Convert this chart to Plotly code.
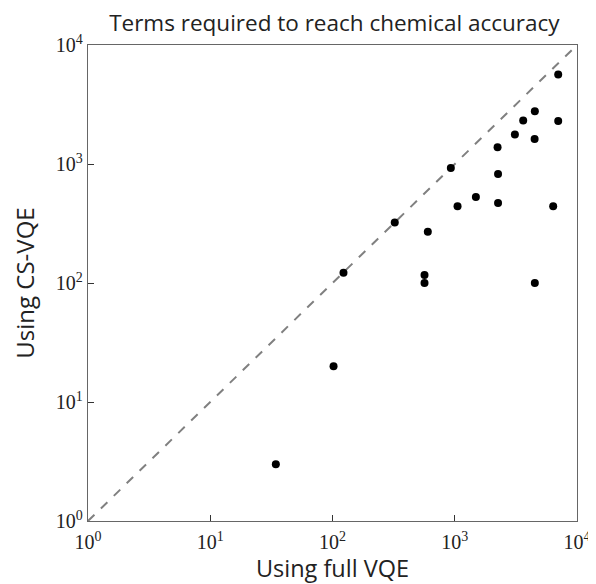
import plotly.graph_objects as go

full_vqe = [34.4, 102, 123, 566, 566, 323, 602, 929, 1054, 1489, 2240, 2260, 2260,
            3104, 3630, 4520, 4500, 4520, 6385, 7020, 7020]
cs_vqe = [3, 20, 122, 117, 100, 322, 270, 926, 441, 528, 1381, 824, 470,
          1766, 2316, 2773, 1622, 100, 441, 2297, 5640]

tick_vals = [1, 10, 100, 1000, 10000]
tick_text = ["10<sup>0</sup>", "10<sup>1</sup>", "10<sup>2</sup>", "10<sup>3</sup>", "10<sup>4</sup>"]
diag = [1, 10000]

fig = go.Figure()
fig.add_trace(go.Scatter(x=diag, y=diag, mode="lines",
                         line=dict(color="#808080", width=2, dash="dash"),
                         hoverinfo="skip", showlegend=False))
fig.add_trace(go.Scatter(x=full_vqe, y=cs_vqe, mode="markers",
                         marker=dict(color="black", size=8),
                         showlegend=False))

axis_common = dict(
    type="log", range=[0, 4], tickvals=tick_vals, ticktext=tick_text,
    ticks="inside", ticklen=6, tickwidth=1.3, tickcolor="#333",
    showline=True, linecolor="#666", linewidth=1.3, mirror=True,
    showgrid=False, zeroline=False, automargin=False,
    tickfont=dict(family="Liberation Serif", size=20, color="#222"),
)

# page body has an 8px margin, so the figure is offset by 8px
fig.update_layout(
    width=588, height=576,
    margin=dict(l=80, r=19, t=37, b=63),
    paper_bgcolor="white", plot_bgcolor="white",
    title=dict(text="Terms required to reach chemical accuracy",
               x=0.555, xanchor="center", y=0.974, yanchor="middle",
               font=dict(family="Open Sans", size=22.5, color="#222")),
    xaxis=dict(**axis_common, ticklabelstandoff=3,
               title=dict(text="Using full VQE", standoff=2,
                          font=dict(family="Open Sans", size=23.5, color="#222"))),
    yaxis=dict(**axis_common,
               title=dict(text="Using CS-VQE", standoff=14,
                          font=dict(family="Open Sans", size=24, color="#222"))),
)

fig.write_html("out.html")
